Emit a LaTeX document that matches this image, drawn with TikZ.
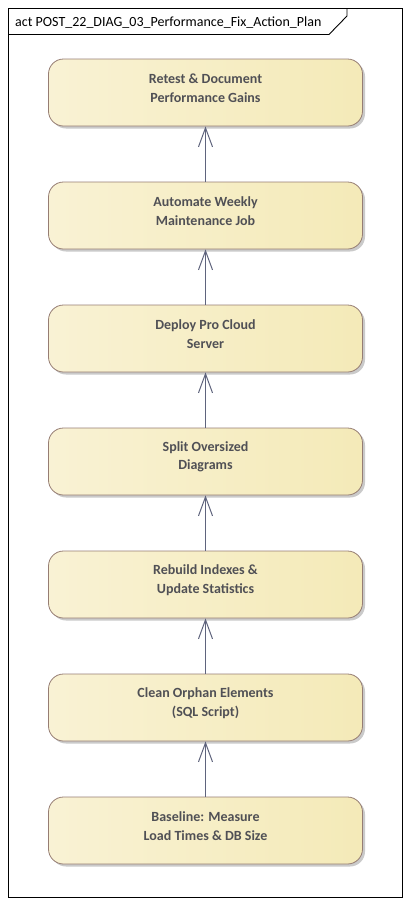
\documentclass[tikz,border=0pt]{standalone}
\usepackage{fontspec}
\setmainfont{Carlito}
\usetikzlibrary{arrows.meta,shadows}
\definecolor{fillL}{RGB}{249,242,212}
\definecolor{fillR}{RGB}{244,234,184}
\definecolor{edge}{RGB}{150,125,115}
\definecolor{txt}{RGB}{80,80,85}
\definecolor{conn}{RGB}{95,100,125}
\tikzset{
  x=1pt,y=1pt,
  action/.style={draw=edge, line width=0.8pt, rounded corners=15pt, minimum width=314pt, minimum height=67pt,
    left color=fillL, right color=fillR,
    drop shadow={shadow xshift=2.5pt, shadow yshift=-2.5pt, fill=black!35, opacity=0.6}},
  label/.style={align=center, font=\fontsize{14}{18.5}\selectfont\bfseries, text=txt, inner sep=0pt},
  flow/.style={draw=conn, line width=1pt, -{Straight Barb[length=19pt,width=14pt,line width=1pt]}}
}
\newcommand{\act}[3]{%
  \node[action] (#1) at (205.5,#2) {};
  \node[label] (#1t) at (205.5,#2+4.5) {#3};
}
\begin{document}
\begin{tikzpicture}
\useasboundingbox (0,0) rectangle (410,-908);
\draw[line width=0.9pt] (8.5,-8.5) rectangle (402.5,-897.5);
\draw[line width=0.9pt] (8.5,-34.5) -- (329,-34.5) -- (347,-16) -- (347,-8.5);
\node[anchor=base west, font=\fontsize{14}{16}\selectfont, inner sep=0pt] (title) at (15,-26) {act POST\_22\_DIAG\_03\_Performance\_Fix\_Action\_Plan};
\act{n1}{-92.5}{Retest \& Document\\Performance Gains}
\act{n2}{-215.5}{Automate Weekly\\Maintenance Job}
\act{n3}{-338.5}{Deploy Pro Cloud\\Server}
\act{n4}{-461.5}{Split Oversized\\Diagrams}
\act{n5}{-584.5}{Rebuild Indexes \&\\Update Statistics}
\act{n6}{-707.5}{Clean Orphan Elements\\(SQL Script)}
\act{n7}{-830.5}{Baseline: Measure\\Load Times \& DB Size}
\draw[flow] (n7) -- (n6);
\draw[flow] (n6) -- (n5);
\draw[flow] (n5) -- (n4);
\draw[flow] (n4) -- (n3);
\draw[flow] (n3) -- (n2);
\draw[flow] (n2) -- (n1);
\end{tikzpicture}
\end{document}
